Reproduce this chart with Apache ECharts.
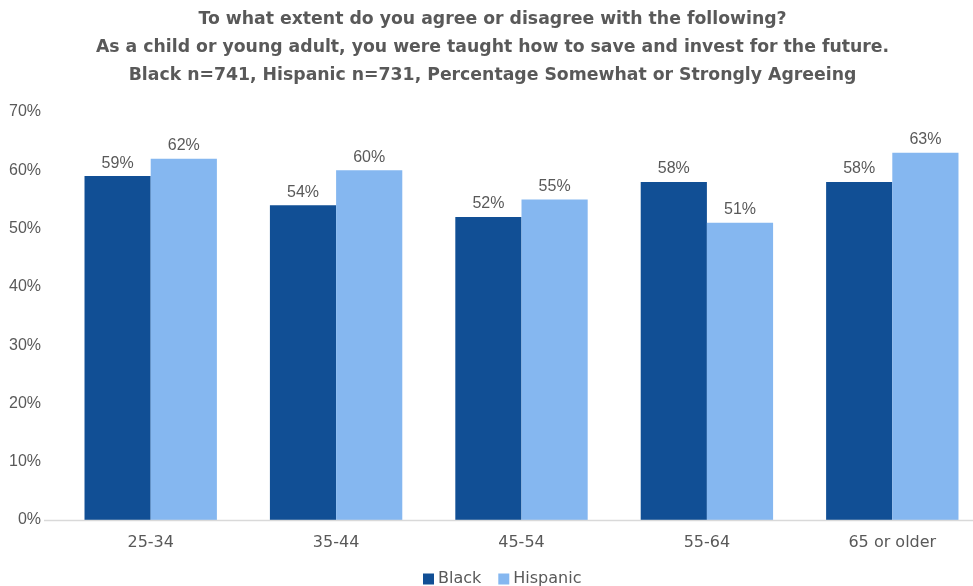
<!DOCTYPE html>
<html>
<head>
<meta charset="utf-8">
<script src="https://cdn.jsdelivr.net/npm/echarts@6/dist/echarts.min.js"></script>
<style>html,body{margin:0;padding:0;background:#fff;overflow:hidden}#c{width:985px;height:586px}</style>
</head>
<body>
<div id="c"></div>
<script>
const titleLines = [
  "To what extent do you agree or disagree with the following?",
  "As a child or young adult, you were taught how to save and invest for the future.",
  "Black n=741, Hispanic n=731, Percentage Somewhat or Strongly Agreeing"
];
const categories = ["25-34", "35-44", "45-54", "55-64", "65 or older"];
const seriesNames = ["Black", "Hispanic"];
const blackValues = [59, 54, 52, 58, 58];
const hispanicValues = [62, 60, 55, 51, 63];
const yTicks = [0, 10, 20, 30, 40, 50, 60, 70];

const FONT = '"Liberation Sans", Arial, sans-serif';
const WIDE = '"DejaVu Sans", sans-serif';
const GREY = '#595959';
const chart = echarts.init(document.getElementById('c'), null, {renderer: 'canvas'});
chart.setOption({
  animation: false,
  backgroundColor: '#fff',
  title: {
    text: titleLines.join('\n'),
    left: 'center',
    top: 1,
    textStyle: {fontFamily: WIDE, fontSize: 17.3, fontWeight: 'bold', color: GREY, lineHeight: 28}
  },
  legend: {
    data: seriesNames,
    left: 418,
    top: 566,
    itemWidth: 11,
    itemHeight: 11,
    itemGap: 17,
    icon: 'rect',
    textStyle: {fontFamily: WIDE, fontSize: 16, color: GREY, padding: [0, 0, 0, -1]}
  },
  grid: {left: 58, right: 0, top: 112, bottom: 66, containLabel: false},
  xAxis: {
    type: 'category',
    data: categories,
    axisLine: {show: false},
    axisTick: {show: false},
    axisLabel: {fontFamily: WIDE, fontSize: 16, color: GREY, margin: 15}
  },
  yAxis: {
    type: 'value',
    min: yTicks[0],
    max: yTicks[yTicks.length - 1],
    interval: 10,
    splitLine: {show: false},
    axisLine: {show: false},
    axisTick: {show: false},
    axisLabel: {fontFamily: FONT, fontSize: 16, color: GREY, margin: 17, formatter: v => v + '%'}
  },
  graphic: [{
    type: 'line',
    shape: {x1: 44, y1: 520.5, x2: 985, y2: 520.5},
    style: {stroke: '#d9d9d9', lineWidth: 1.5},
    z: 10
  }],
  series: [
    {
      name: seriesNames[0], type: 'bar', data: blackValues,
      barGap: '0%', barCategoryGap: '28.6%',
      itemStyle: {color: '#114F95'},
      label: {show: true, position: 'top', distance: 5, fontFamily: FONT, fontSize: 16, color: GREY, formatter: p => p.value + '%'}
    },
    {
      name: seriesNames[1], type: 'bar', data: hispanicValues,
      barGap: '0%', barCategoryGap: '28.6%',
      itemStyle: {color: '#85B7F0'},
      label: {show: true, position: 'top', distance: 5, fontFamily: FONT, fontSize: 16, color: GREY, formatter: p => p.value + '%'}
    }
  ]
});
</script>
</body>
</html>
